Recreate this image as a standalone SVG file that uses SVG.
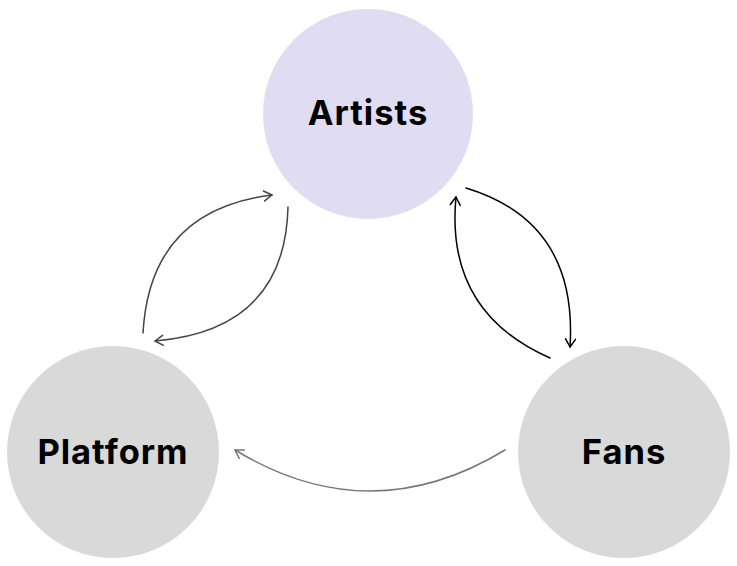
<svg xmlns="http://www.w3.org/2000/svg" width="737" height="566" viewBox="0 0 737 566">
  <style>
    .lbl { font-family: Inter, "Liberation Sans", sans-serif; font-weight: 700; font-size: 34.5px; letter-spacing: 1px; fill: #000; text-anchor: middle; }
    .c { fill: none; stroke-width: 1.5; stroke-linecap: round; }
  </style>
  <defs>
    <marker id="ah-dark" viewBox="0 0 12 12" refX="11" refY="6" markerWidth="12" markerHeight="12" markerUnits="userSpaceOnUse" orient="auto">
      <path d="M3,1 L11,6 L3,11" fill="none" stroke="#444" stroke-width="1.5" stroke-linecap="round" stroke-linejoin="round"/>
    </marker>
    <marker id="ah-black" viewBox="0 0 12 12" refX="11" refY="6" markerWidth="12" markerHeight="12" markerUnits="userSpaceOnUse" orient="auto">
      <path d="M3,1 L11,6 L3,11" fill="none" stroke="#000" stroke-width="1.5" stroke-linecap="round" stroke-linejoin="round"/>
    </marker>
    <marker id="ah-gray" viewBox="0 0 12 12" refX="11" refY="6" markerWidth="12" markerHeight="12" markerUnits="userSpaceOnUse" orient="auto">
      <path d="M3,1 L11,6 L3,11" fill="none" stroke="#777" stroke-width="1.5" stroke-linecap="round" stroke-linejoin="round"/>
    </marker>
  </defs>
  <rect width="737" height="566" fill="#fff"/>
  <g id="artists">
    <circle cx="368" cy="114" r="105" fill="#E0DDF2"/>
    <text class="lbl" x="368" y="125">Artists</text>
  </g>
  <g id="platform">
    <circle cx="113" cy="452" r="106" fill="#D9D9D9"/>
    <text class="lbl" x="113" y="464">Platform</text>
  </g>
  <g id="fans">
    <circle cx="624" cy="452" r="106" fill="#D9D9D9"/>
    <text class="lbl" x="624" y="464">Fans</text>
  </g>
  <g id="connectors">
    <path class="c" stroke="#444" d="M143,333 Q150,210 272,195" marker-end="url(#ah-dark)"/>
    <path class="c" stroke="#444" d="M288,207 Q285,330 155,341" marker-end="url(#ah-dark)"/>
    <path class="c" stroke="#000" d="M466,188 Q578,222 570,347" marker-end="url(#ah-black)"/>
    <path class="c" stroke="#000" d="M550,358 Q445,312 456,197" marker-end="url(#ah-black)"/>
    <path class="c" stroke="#777" d="M505,450 Q370,532 235,450" marker-end="url(#ah-gray)"/>
  </g>
</svg>
